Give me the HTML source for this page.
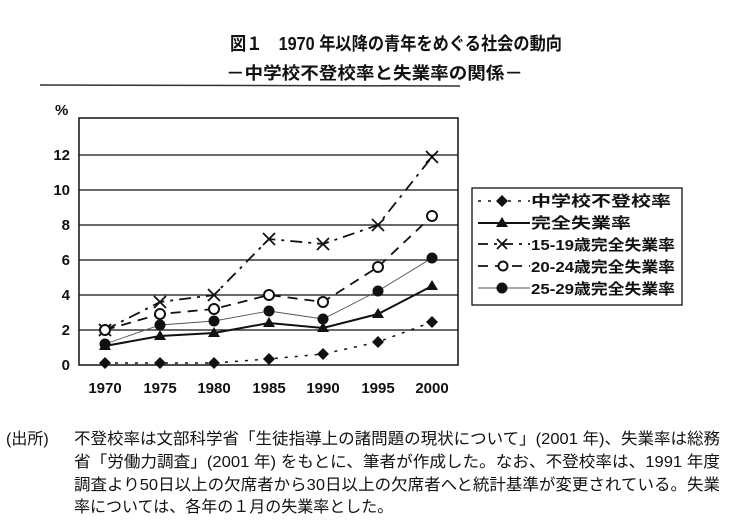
<!DOCTYPE html><html><head><meta charset="utf-8"><style>
body{margin:0;background:#fff;width:743px;height:528px;overflow:hidden}
svg{display:block}
text{font-family:"Liberation Sans","Noto Sans CJK JP",sans-serif;fill:#111}
</style></head><body>
<svg width="743" height="528" viewBox="0 0 743 528">
<text x="230" y="50" font-size="18" font-weight="bold" textLength="332" lengthAdjust="spacingAndGlyphs">図１　1970 年以降の青年をめぐる社会の動向</text>
<text x="226" y="79" font-size="17" font-weight="bold" textLength="297" lengthAdjust="spacingAndGlyphs">－中学校不登校率と失業率の関係－</text>
<line x1="40" y1="85" x2="460" y2="86" stroke="#333" stroke-width="1.5"/>
<text x="55" y="115" font-size="15" font-weight="bold">%</text>
<rect x="79" y="118" width="379" height="247" fill="none" stroke="#111" stroke-width="1.5"/>
<g stroke="#111" stroke-width="1.3">
<line x1="79" y1="155" x2="458" y2="155"/><line x1="79" y1="190" x2="458" y2="190"/>
<line x1="79" y1="225" x2="458" y2="225"/><line x1="79" y1="260" x2="458" y2="260"/>
<line x1="79" y1="295" x2="458" y2="295"/><line x1="79" y1="330" x2="458" y2="330"/>
</g>
<g font-size="15" font-weight="bold" text-anchor="end">
<text x="70" y="160">12</text><text x="70" y="195">10</text><text x="70" y="230">8</text>
<text x="70" y="265">6</text><text x="70" y="300">4</text><text x="70" y="335">2</text><text x="70" y="370">0</text>
</g>
<g font-size="15" font-weight="bold" text-anchor="middle">
<text x="105" y="393">1970</text><text x="160" y="393">1975</text><text x="214" y="393">1980</text>
<text x="269" y="393">1985</text><text x="323" y="393">1990</text><text x="378" y="393">1995</text><text x="432" y="393">2000</text>
</g>
<polyline fill="none" stroke="#111" stroke-width="1.5" stroke-dasharray="3,7" points="105,363 160,363 214,363 269,359 323,354 378,342 432,322"/>
<g fill="#111"><path d="M105,357l6,6-6,6-6-6z"/><path d="M160,357l6,6-6,6-6-6z"/><path d="M214,357l6,6-6,6-6-6z"/><path d="M269,353l6,6-6,6-6-6z"/><path d="M323,348l6,6-6,6-6-6z"/><path d="M378,336l6,6-6,6-6-6z"/><path d="M432,316l6,6-6,6-6-6z"/></g>
<polyline fill="none" stroke="#111" stroke-width="2" points="105,346 160,336 214,333 269,323 323,328 378,314 432,286"/>
<g fill="#111"><path d="M105,340l6,10h-12z"/><path d="M160,330l6,10h-12z"/><path d="M214,327l6,10h-12z"/><path d="M269,317l6,10h-12z"/><path d="M323,322l6,10h-12z"/><path d="M378,308l6,10h-12z"/><path d="M432,280l6,10h-12z"/></g>
<polyline fill="none" stroke="#111" stroke-width="1.8" stroke-dasharray="12,6,3,6" points="105,330 160,302 214,295 269,239 323,244 378,225 432,157"/>
<g stroke="#111" stroke-width="1.8"><path d="M99,324l12,12M111,324l-12,12"/><path d="M154,296l12,12M166,296l-12,12"/><path d="M208,289l12,12M220,289l-12,12"/><path d="M263,233l12,12M275,233l-12,12"/><path d="M317,238l12,12M329,238l-12,12"/><path d="M372,219l12,12M384,219l-12,12"/><path d="M426,151l12,12M438,151l-12,12"/></g>
<polyline fill="none" stroke="#111" stroke-width="1.8" stroke-dasharray="10,7" points="105,330 160,314 214,309 269,295 323,302 378,267 432,216"/>
<g fill="#fff" stroke="#111" stroke-width="2"><circle cx="105" cy="330" r="5"/><circle cx="160" cy="314" r="5"/><circle cx="214" cy="309" r="5"/><circle cx="269" cy="295" r="5"/><circle cx="323" cy="302" r="5"/><circle cx="378" cy="267" r="5"/><circle cx="432" cy="216" r="5"/></g>
<polyline fill="none" stroke="#555" stroke-width="0.9" points="105,344 160,325 214,321 269,311 323,319 378,291 432,258"/>
<g fill="#111"><circle cx="105" cy="344" r="5.5"/><circle cx="160" cy="325" r="5.5"/><circle cx="214" cy="321" r="5.5"/><circle cx="269" cy="311" r="5.5"/><circle cx="323" cy="319" r="5.5"/><circle cx="378" cy="291" r="5.5"/><circle cx="432" cy="258" r="5.5"/></g>
<rect x="472" y="188" width="210" height="117" fill="#fff" stroke="#111" stroke-width="1.3"/>
<g font-size="15" font-weight="bold">
<line x1="478" y1="201" x2="530" y2="201" stroke="#111" stroke-width="1.5" stroke-dasharray="3,7"/><path d="M502,195l6,6-6,6-6-6z" fill="#111"/><text x="531" y="206" textLength="140" lengthAdjust="spacingAndGlyphs">中学校不登校率</text>
<line x1="478" y1="223" x2="530" y2="223" stroke="#111" stroke-width="2"/><path d="M502,217l6,10h-12z" fill="#111"/><text x="531" y="228" textLength="100" lengthAdjust="spacingAndGlyphs">完全失業率</text>
<line x1="478" y1="244" x2="530" y2="244" stroke="#111" stroke-width="1.8" stroke-dasharray="10,6,3,6"/><path d="M497,239l10,10M507,239l-10,10" stroke="#111" stroke-width="1.8"/><text x="531" y="250" textLength="144" lengthAdjust="spacingAndGlyphs">15-19歳完全失業率</text>
<line x1="478" y1="266" x2="530" y2="266" stroke="#111" stroke-width="1.8" stroke-dasharray="10,7"/><circle cx="503" cy="266" r="4.5" fill="#fff" stroke="#111" stroke-width="2"/><text x="531" y="272" textLength="144" lengthAdjust="spacingAndGlyphs">20-24歳完全失業率</text>
<line x1="478" y1="288" x2="530" y2="288" stroke="#555" stroke-width="0.9"/><circle cx="502" cy="288" r="5.5" fill="#111"/><text x="531" y="294" textLength="144" lengthAdjust="spacingAndGlyphs">25-29歳完全失業率</text>
</g>
<g font-size="16">
<text x="6" y="444">(出所)</text>
<text x="74" y="444" textLength="646" lengthAdjust="spacingAndGlyphs">不登校率は文部科学省「生徒指導上の諸問題の現状について」(2001 年)、失業率は総務</text>
<text x="74" y="467" textLength="646" lengthAdjust="spacingAndGlyphs">省「労働力調査」(2001 年) をもとに、筆者が作成した。なお、不登校率は、1991 年度</text>
<text x="74" y="490" textLength="646" lengthAdjust="spacingAndGlyphs">調査より50日以上の欠席者から30日以上の欠席者へと統計基準が変更されている。失業</text>
<text x="74" y="512">率については、各年の１月の失業率とした。</text>
</g>
</svg>
</body></html>
